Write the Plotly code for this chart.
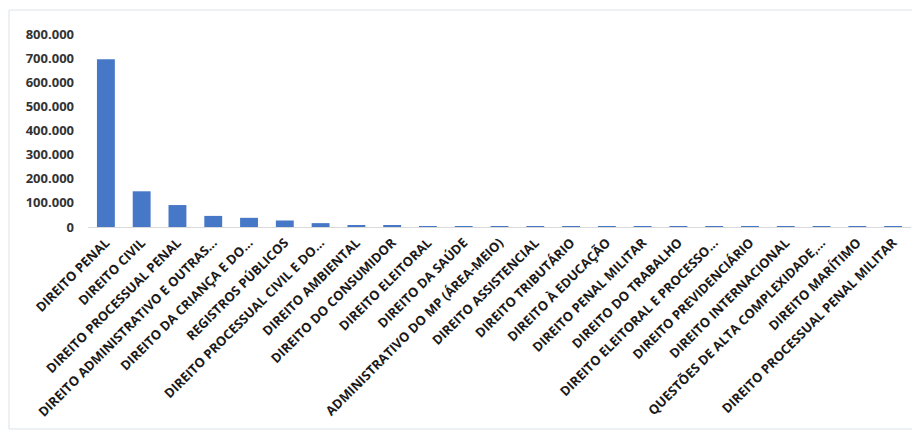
import plotly.graph_objects as go

categories = [
    "DIREITO PENAL",
    "DIREITO CIVIL",
    "DIREITO PROCESSUAL PENAL",
    "DIREITO ADMINISTRATIVO E OUTRAS...",
    "DIREITO DA CRIANÇA E DO...",
    "REGISTROS PÚBLICOS",
    "DIREITO PROCESSUAL CIVIL E DO...",
    "DIREITO AMBIENTAL",
    "DIREITO DO CONSUMIDOR",
    "DIREITO ELEITORAL",
    "DIREITO DA SAÚDE",
    "ADMINISTRATIVO DO MP (ÁREA-MEIO)",
    "DIREITO ASSISTENCIAL",
    "DIREITO TRIBUTÁRIO",
    "DIREITO À EDUCAÇÃO",
    "DIREITO PENAL MILITAR",
    "DIREITO DO TRABALHO",
    "DIREITO ELEITORAL E PROCESSO...",
    "DIREITO PREVIDENCIÁRIO",
    "DIREITO INTERNACIONAL",
    "QUESTÕES DE ALTA COMPLEXIDADE,...",
    "DIREITO MARÍTIMO",
    "DIREITO PROCESSUAL PENAL MILITAR",
]

values = [
    695000, 148000, 91000, 46000, 38000, 27000, 16000, 7000, 7000,
    1200, 1000, 900, 800, 700, 600, 500, 400, 350, 300, 250, 200, 150, 100,
]

y_ticks = [0, 100000, 200000, 300000, 400000, 500000, 600000, 700000, 800000]

fig = go.Figure(
    go.Bar(
        x=categories,
        y=values,
        marker=dict(color="#4778c8", line=dict(width=0)),
    )
)

# page body has an 8px margin; figure coordinates are page coordinates minus 8
W, H = 912, 429
L, R, T, B = 80, 9, 26, 209.5
pw = W - L - R
ph = H - T - B

def px_x(x):
    return (x - L) / pw

def px_y(y):
    return (H - B - y) / ph

fig.update_layout(
    width=W,
    height=H,
    margin=dict(l=L, r=R, t=T, b=B, pad=0, autoexpand=False),
    paper_bgcolor="white",
    plot_bgcolor="white",
    separators=",.",
    bargap=0.5,
    showlegend=False,
    font=dict(family="Open Sans", color="#2b2b2b"),
    xaxis=dict(
        tickangle=-45,
        tickfont=dict(family="Open Sans", size=13, weight="bold", color="#1a1a1a"),
        showline=True,
        linecolor="#d9d9d9",
        linewidth=1,
        ticks="",
        showgrid=False,
        ticklabelstandoff=2,
        automargin=False,
    ),
    yaxis=dict(
        range=[0, 800000],
        tickvals=y_ticks,
        tickformat=",d",
        tickfont=dict(family="Open Sans", size=13, weight="bold", color="#333333"),
        showgrid=False,
        zeroline=False,
        showline=False,
        ticks="",
        ticklabelstandoff=13,
        automargin=False,
    ),
    shapes=[
        dict(
            type="rect",
            xref="paper",
            yref="paper",
            x0=px_x(1),
            x1=px_x(925),
            y0=px_y(422),
            y1=px_y(2),
            line=dict(color="#dde3e8", width=1),
            fillcolor="rgba(0,0,0,0)",
            layer="below",
        )
    ],
)

fig.write_html("out.html")
